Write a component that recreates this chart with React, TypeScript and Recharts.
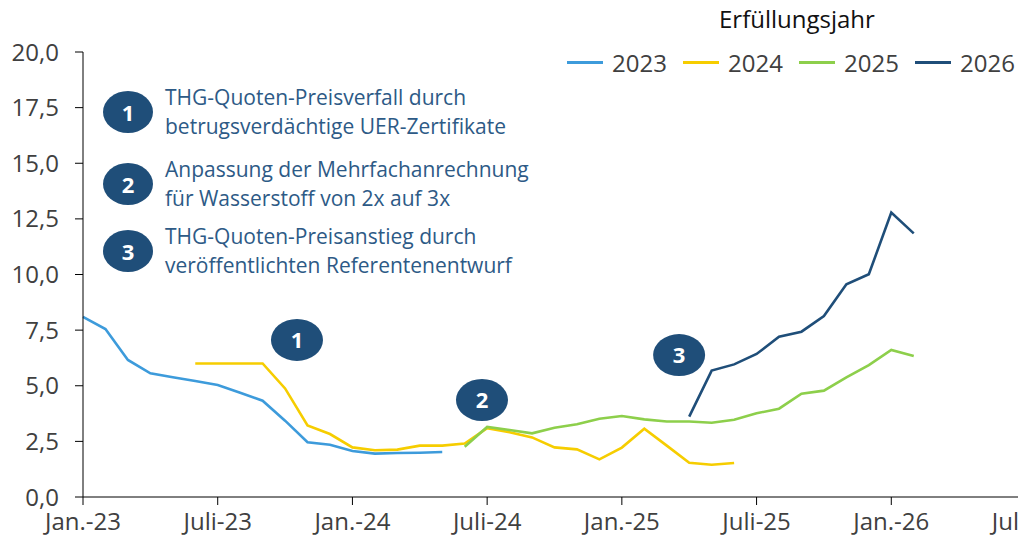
import React from "react";
import {
  LineChart,
  Line,
  XAxis,
  YAxis,
  Legend,
  ReferenceDot,
} from "recharts";

// month index 0 = Jan.-23
const tickMonths = [0, 6, 12, 18, 24, 30, 36, 42];
const tickLabels = ["Jan.-23", "Juli-23", "Jan.-24", "Juli-24", "Jan.-25", "Juli-25", "Jan.-26", "Juli-26"];
const yTicks = [0, 2.5, 5, 7.5, 10, 12.5, 15, 17.5, 20];

const start2023 = 0;
const values2023 = [8.1, 7.55, 6.16, 5.56, 5.38, 5.21, 5.03, 4.69, 4.33, 3.43, 2.46, 2.35, 2.07, 1.95, 1.98, 1.99, 2.02];
const start2024 = 5;
const values2024 = [6.0, 6.0, 6.0, 6.0, 4.88, 3.22, 2.83, 2.23, 2.1, 2.13, 2.31, 2.31, 2.4, 3.09, 2.91, 2.68, 2.23, 2.14, 1.69, 2.22, 3.07, 2.31, 1.54, 1.45, 1.53];
const start2025 = 17;
const values2025 = [2.26, 3.15, 3.01, 2.86, 3.11, 3.27, 3.52, 3.64, 3.49, 3.39, 3.39, 3.34, 3.47, 3.76, 3.97, 4.64, 4.78, 5.38, 5.93, 6.61, 6.34];
const start2026 = 27;
const values2026 = [3.61, 5.68, 5.96, 6.43, 7.2, 7.43, 8.13, 9.56, 10.01, 12.78, 11.85];

const seriesNames = ["2023", "2024", "2025", "2026"];
const seriesColors = ["#3D9BDB", "#F6CD00", "#8DCF4B", "#1F4E79"];

const markers = [
  { n: "1", x: 9.53, y: 7.06 },
  { n: "2", x: 17.77, y: 4.36 },
  { n: "3", x: 26.55, y: 6.38 },
];

const notes = [
  ["THG-Quoten-Preisverfall durch", "betrugsverdächtige UER-Zertifikate"],
  ["Anpassung der Mehrfachanrechnung", "für Wasserstoff von 2x auf 3x"],
  ["THG-Quoten-Preisanstieg durch", "veröffentlichten Referentenentwurf"],
];

const series = [
  { start: start2023, values: values2023 },
  { start: start2024, values: values2024 },
  { start: start2025, values: values2025 },
  { start: start2026, values: values2026 },
];

const data = Array.from({ length: 38 }, (_, m) => {
  const row: Record<string, number | null> = { m };
  series.forEach((s, i) => {
    const v = s.values[m - s.start];
    row[seriesNames[i]] = v === undefined ? null : v;
  });
  return row;
});

const FONT = "'Segoe UI', 'Open Sans', sans-serif";
const AXIS = "#404040";
const NAVY = "#1F4E79";

const fmt = (v: number) => v.toFixed(1).replace(".", ",");

function Marker(props: any) {
  const { cx, cy, label } = props;
  return (
    <g>
      <ellipse cx={cx} cy={cy} rx={26} ry={21} fill={NAVY} />
      <text x={cx} y={cy + 8} textAnchor="middle" fill="#fff" fontSize={22} fontWeight={700} fontFamily={FONT}>
        {label}
      </text>
    </g>
  );
}

function LegendBox(props: any) {
  const payload = props.payload || [];
  return (
    <div style={{ position: "relative", width: 460, height: 80, fontFamily: FONT }}>
      <div style={{ position: "absolute", left: 159, top: 2, fontSize: 24, color: "#111" }}>Erfüllungsjahr</div>
      {payload.map((p: any, i: number) => (
        <div key={p.value} style={{ position: "absolute", left: 7 + i * 116, top: 46, display: "flex", alignItems: "center" }}>
          <div style={{ width: 36, height: 3, background: p.color, marginRight: 9 }} />
          <span style={{ fontSize: 24, color: AXIS }}>{p.value}</span>
        </div>
      ))}
    </div>
  );
}

export default function App() {
  return (
    <div style={{ position: "absolute", left: 0, top: 0, width: 1018, height: 538, overflow: "hidden", background: "#fff" }}>
      <LineChart width={1060} height={538} data={data} margin={{ top: 52, right: 34, bottom: 0, left: 13 }}>
        <XAxis
          dataKey="m"
          type="number"
          domain={[0, 42]}
          ticks={tickMonths}
          tickFormatter={(v: number) => tickLabels[tickMonths.indexOf(v)]}
          height={41}
          tickSize={8}
          tickMargin={8}
          interval={0}
          stroke="#000"
          tick={{ fill: AXIS, fontSize: 24, fontFamily: FONT }}
        />
        <YAxis
          type="number"
          domain={[0, 20]}
          ticks={yTicks}
          tickFormatter={fmt}
          width={70}
          tickSize={8}
          tickMargin={16}
          interval={0}
          stroke="#000"
          tick={{ fill: AXIS, fontSize: 24, fontFamily: FONT }}
        />
        <Legend
          layout="horizontal"
          verticalAlign="middle"
          content={<LegendBox />}
          wrapperStyle={{ position: "absolute", left: 560, top: 0, width: 460, height: 80 }}
        />
        {seriesNames.map((name, i) => (
          <Line
            key={name}
            dataKey={name}
            name={name}
            stroke={seriesColors[i]}
            strokeWidth={2.6}
            dot={false}
            activeDot={false}
            connectNulls={false}
            isAnimationActive={false}
          />
        ))}
        {markers.map((mk) => (
          <ReferenceDot key={mk.n} x={mk.x} y={mk.y} r={0} shape={(p: any) => <Marker {...p} label={mk.n} />} />
        ))}
      </LineChart>
      {notes.map((lines, i) => (
        <div
          key={i}
          style={{
            position: "absolute",
            left: 103,
            top: [112, 184, 251][i] - 30,
            height: 60,
            display: "flex",
            alignItems: "center",
            fontFamily: FONT,
          }}
        >
          <div
            style={{
              width: 50,
              height: 42,
              borderRadius: "50%",
              background: NAVY,
              color: "#fff",
              fontWeight: 700,
              fontSize: 22,
              display: "flex",
              alignItems: "center",
              justifyContent: "center",
              marginRight: 12,
            }}
          >
            {i + 1}
          </div>
          <div style={{ color: "#2D5A86", fontSize: 21, lineHeight: "29px" }}>
            {lines.map((l) => (
              <div key={l}>{l}</div>
            ))}
          </div>
        </div>
      ))}
    </div>
  );
}
